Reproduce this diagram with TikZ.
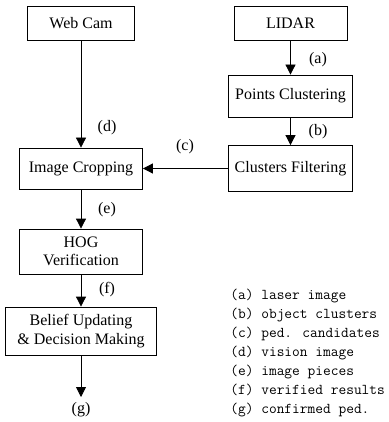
\documentclass[tikz,border=0pt]{standalone}
\usepackage{fontspec}
\setmainfont{Liberation Serif}
\usetikzlibrary{arrows.meta}

\tikzset{
  block/.style={
    rectangle,
    draw,
    inner sep=2pt,
    text centered,
    align=center
  },
  flow/.style={-{Triangle[length=10pt,width=10pt]}},
}

\begin{document}
\begin{tikzpicture}[x=1pt,y=-1pt,flow,line width=0.8pt]
  \fontsize{16}{18.5}\selectfont
  \useasboundingbox (0,0) rectangle (388,422);
  \node[block, anchor=center, minimum width=107pt, minimum height=34pt] (cam) at (81, 23) {Web Cam};
  \node[block, anchor=center, minimum width=113pt, minimum height=34pt] (lidar) at (290.5, 23) {LIDAR};
  \node[block, anchor=center, minimum width=124pt, minimum height=42pt] (clus) at (290.5, 96) {Points Clustering};
  \node[block, anchor=center, minimum width=124pt, minimum height=46pt] (filt) at (290.5, 168.5) {Clusters Filtering};
  \node[block, anchor=center, minimum width=123pt, minimum height=41pt] (crop) at (81, 168.5) {Image Cropping};
  \node[block, anchor=center, minimum width=123pt, minimum height=45pt] (hog) at (81, 251.5) {HOG\\Verification};
  \node[block, anchor=center, minimum width=151pt, minimum height=48pt] (belief) at (81, 331) {Belief Updating\\\& Decision Making};
  \coordinate (out) at (81, 397);
  \draw (lidar) -- (clus);
  \draw (clus) -- (filt);
  \draw (cam) -- (crop);
  \draw (filt) -- (crop);
  \draw (crop) -- (hog);
  \draw (hog) -- (belief);
  \draw (belief) -- (out);
  % edge labels
  \node (la) at (318, 60) {(a)};
  \node (lb) at (318, 132) {(b)};
  \node (lc) at (185, 147) {(c)};
  \node (ld) at (107, 128) {(d)};
  \node (le) at (107, 210) {(e)};
  \node (lf) at (107, 290) {(f)};
  \node (lg) at (81, 410) {(g)};
  % legend
  \node[anchor=north west, inner sep=0pt, align=left, font=\ttfamily\fontsize{15}{19}\selectfont] (legend) at (230, 289) {%
    (a) laser image\\
    (b) object clusters\\
    (c) ped. candidates\\
    (d) vision image\\
    (e) image pieces\\
    (f) verified results\\
    (g) confirmed ped.};
\end{tikzpicture}
\end{document}
